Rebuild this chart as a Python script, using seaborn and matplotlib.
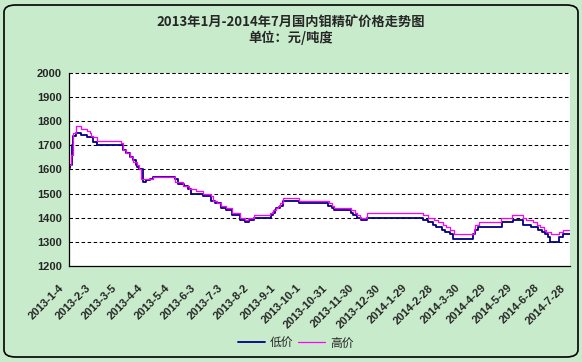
import numpy as np
import pandas as pd
import seaborn as sns
import matplotlib
matplotlib.use("Agg")
import matplotlib.pyplot as plt
from matplotlib.patches import FancyBboxPatch
from matplotlib.lines import Line2D
from matplotlib.transforms import ScaledTranslation, blended_transform_factory

# days counted from 2013-1-4, step values (元/吨度)
low_days = [0, 1, 3, 5, 8, 14, 20, 27, 32, 62, 65, 69, 73, 76, 77, 80, 84, 88, 92, 96,
            121, 124, 131, 135, 139, 153, 162, 166, 173, 179, 185, 194, 195, 200, 205, 211,
            230, 232, 234, 236, 240, 244, 262, 295, 299, 302, 321, 323, 328, 332, 339,
            403, 409, 414, 418, 424, 428, 433, 437, 460, 462, 465, 493, 505, 517, 526,
            534, 538, 541, 545, 547, 557, 562, 570]
low_vals = [1605, 1620, 1700, 1740, 1750, 1745, 1735, 1715, 1700, 1680, 1670, 1650, 1640, 1620, 1610, 1600, 1550, 1555, 1560, 1570,
            1560, 1540, 1530, 1520, 1500, 1490, 1470, 1460, 1440, 1430, 1410, 1400, 1390, 1380, 1390, 1400,
            1410, 1420, 1430, 1440, 1450, 1470, 1460, 1450, 1440, 1430, 1420, 1410, 1400, 1390, 1400,
            1390, 1380, 1370, 1360, 1350, 1340, 1330, 1310, 1330, 1350, 1360, 1380, 1390, 1370, 1360,
            1350, 1340, 1330, 1320, 1300, 1320, 1330, 1330]

high_days = [0, 2, 5, 8, 14, 20, 24, 25, 27, 32, 59, 62, 65, 69, 73, 77, 80, 82, 96,
             121, 130, 137, 145, 153, 161, 164, 168, 173, 179, 185, 194, 200, 204, 211,
             229, 232, 235, 238, 240, 244, 262, 296, 299, 302, 321, 325, 328, 331, 339,
             403, 409, 415, 420, 426, 429, 434, 438, 461, 462, 466, 492, 504, 517, 520,
             528, 532, 536, 540, 543, 548, 557, 562, 570]
high_vals = [1620, 1660, 1750, 1780, 1770, 1760, 1750, 1740, 1735, 1720, 1710, 1680, 1670, 1650, 1630, 1620, 1600, 1560, 1570,
             1550, 1530, 1520, 1510, 1500, 1490, 1470, 1460, 1450, 1440, 1420, 1400, 1390, 1400, 1410,
             1420, 1430, 1440, 1450, 1460, 1480, 1470, 1460, 1450, 1440, 1430, 1420, 1410, 1400, 1420,
             1410, 1400, 1390, 1380, 1370, 1360, 1350, 1330, 1350, 1370, 1380, 1400, 1410, 1400, 1390,
             1380, 1370, 1360, 1350, 1340, 1330, 1340, 1350, 1350]

tick_labels = ["2013-1-4", "2013-2-3", "2013-3-5", "2013-4-4", "2013-5-4", "2013-6-3",
               "2013-7-3", "2013-8-2", "2013-9-1", "2013-10-1", "2013-10-31", "2013-11-30",
               "2013-12-30", "2014-1-29", "2014-2-28", "2014-3-30", "2014-4-29", "2014-5-29",
               "2014-6-28", "2014-7-28"]
tick_days = [30 * i for i in range(len(tick_labels))]

bg = "#C8ECCB"
low_color = "#000080"
high_color = "#FF00FF"

sns.set_style("white")
plt.rcParams["font.family"] = ["Noto Sans CJK SC", "DejaVu Sans"]

fig = plt.figure(figsize=(5.82, 3.62), dpi=100, facecolor=bg)
fig.patches.append(FancyBboxPatch((4 / 582, 5 / 362), 574 / 582, 352 / 362,
                                  boxstyle="round,pad=0,rounding_size=0.02",
                                  transform=fig.transFigure, facecolor=bg,
                                  edgecolor="black", linewidth=1.2, zorder=-10))

ax = fig.add_axes([69 / 582, 1 - 265.7 / 362, 501 / 582, 192.4 / 362])
ax.set_facecolor("white")

df_low = pd.DataFrame({"day": low_days, "price": low_vals})
df_high = pd.DataFrame({"day": high_days, "price": high_vals})
sns.lineplot(data=df_low, x="day", y="price", color=low_color, lw=1.3,
             drawstyle="steps-post", ax=ax)
sns.lineplot(data=df_high, x="day", y="price", color=high_color, lw=0.9,
             drawstyle="steps-post", ax=ax)

ax.set_xlim(0, 570)
ax.set_ylim(1200, 2000)
ax.set_yticks(range(1200, 2001, 100))
ax.set_xticks(tick_days)
ax.set_xticklabels([])
for lab in ax.get_yticklabels():
    lab.set_fontweight("bold")
    lab.set_family("Liberation Sans")
    lab.set_fontsize(8)
ax.tick_params(axis="x", direction="in", length=2.5, width=0.8, color="black")
ax.tick_params(axis="y", length=0, pad=5)
ax.set_xlabel("")
ax.set_ylabel("")

# rotated date labels, ending a little left of and below each tick
lab_tr = blended_transform_factory(ax.transData, ax.transAxes) + \
    ScaledTranslation(-10 / 100, -17 / 100, fig.dpi_scale_trans)
for d, lab in zip(tick_days, tick_labels):
    ax.text(d, 0, lab, transform=lab_tr, rotation=45, ha="right", va="top",
            rotation_mode="anchor", fontsize=8, fontweight="bold",
            family="Liberation Sans", clip_on=False)

for v in range(1300, 2001, 100):
    ax.axhline(v, color="black", lw=0.75, linestyle=(0, (3.4, 2.4)), zorder=1, clip_on=False)

for s in ["top", "right"]:
    ax.spines[s].set_visible(False)
for s in ["left", "bottom"]:
    ax.spines[s].set_color("black")
    ax.spines[s].set_linewidth(0.9)

fig.text(0.5, 1 - 22 / 362, "2013年1月-2014年7月国内钼精矿价格走势图",
         ha="center", va="center", fontsize=9.5, fontweight="bold")
fig.text(0.5, 1 - 37.5 / 362, "单位：元/吨度",
         ha="center", va="center", fontsize=9.5, fontweight="bold")

handles = [Line2D([], [], color=low_color, lw=1.3), Line2D([], [], color=high_color, lw=0.9)]
fig.legend(handles, ["低价", "高价"], loc="center", bbox_to_anchor=(0.508, 1 - 343 / 362),
           ncol=2, frameon=False, fontsize=8.5, handlelength=2.3, handletextpad=0.4,
           columnspacing=0.4)

fig.savefig("out.png", dpi=100, facecolor=bg)
